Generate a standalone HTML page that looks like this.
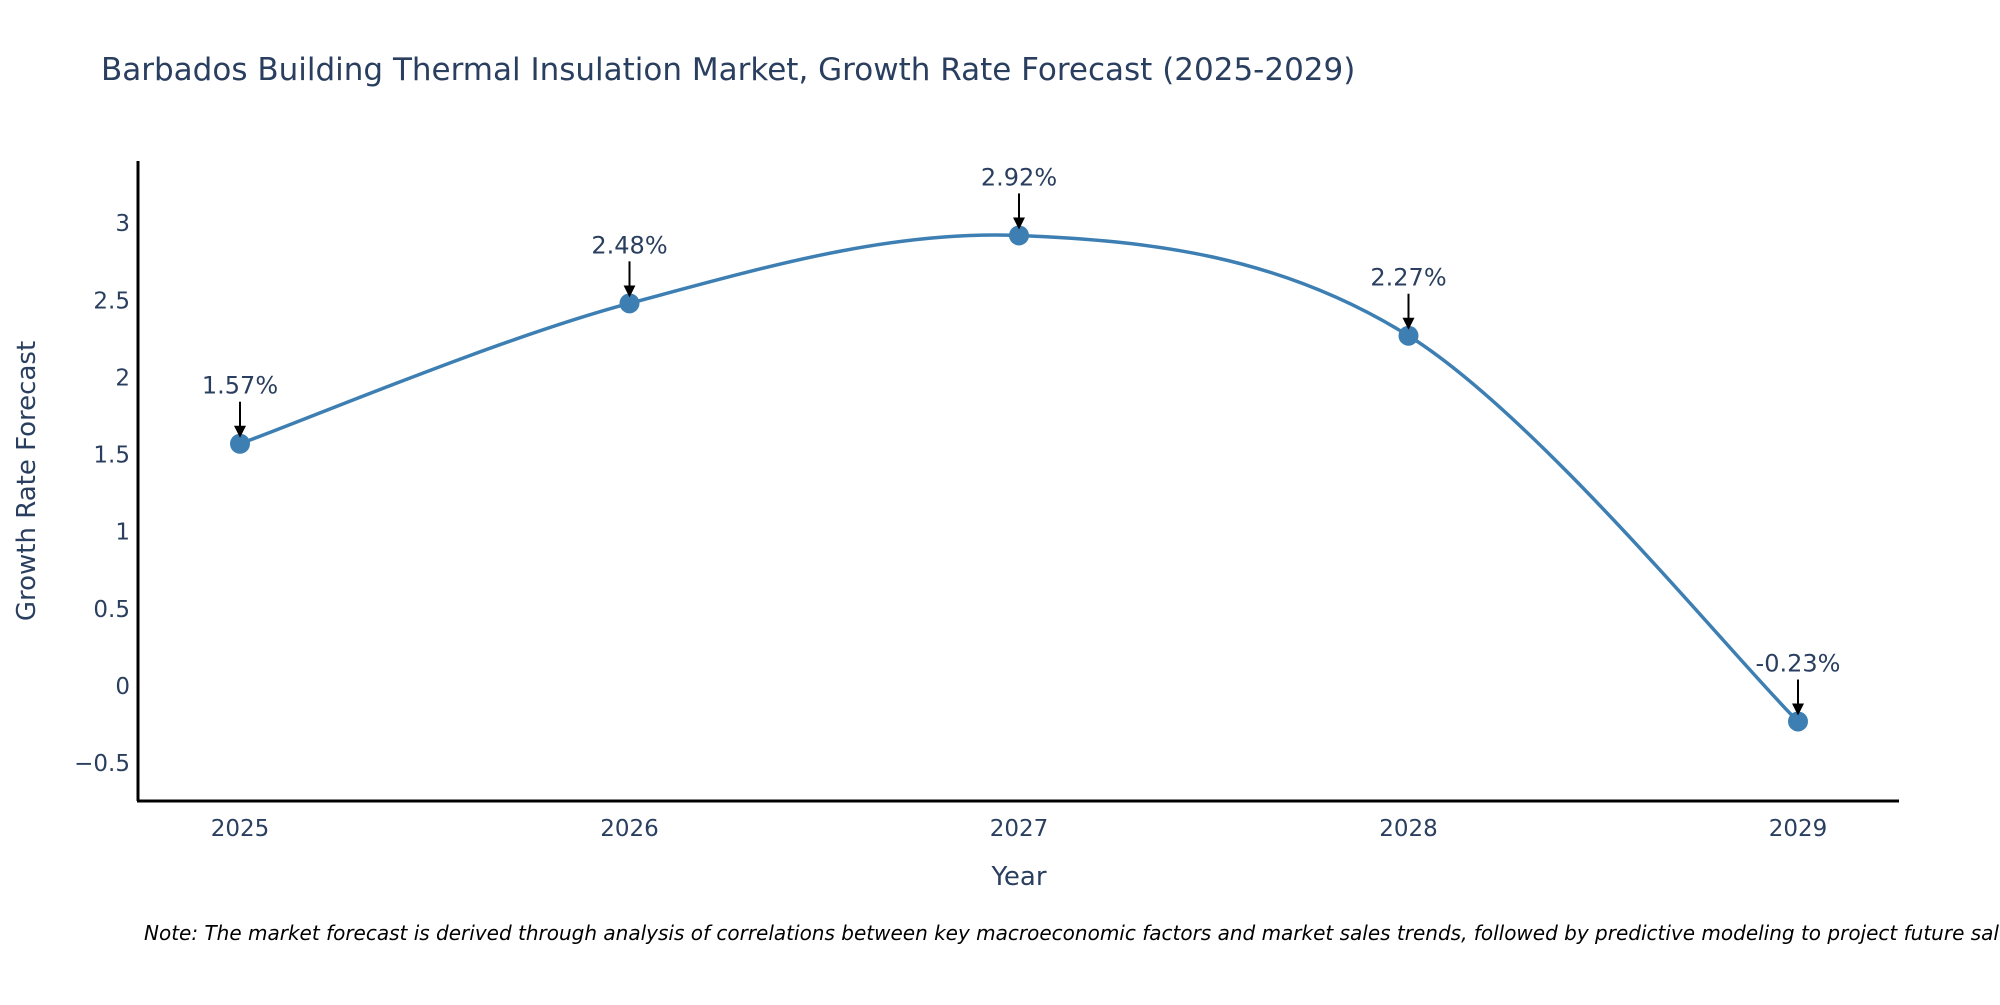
<!DOCTYPE html>
<html><head><meta charset="utf-8"><style>
body{margin:0;background:#fff;overflow:hidden;}
svg text{font-family:"DejaVu Sans","Liberation Sans",sans-serif;}
</style></head><body>
<svg id="chart" width="2000" height="1000" viewBox="0 0 2000 1000" xmlns="http://www.w3.org/2000/svg">
<rect width="2000" height="1000" fill="#fff"/>
<text x="101" y="80" font-size="31" fill="#2a3f5f">Barbados Building Thermal Insulation Market, Growth Rate Forecast (2025-2029)</text>
<g id="yticks"></g>
<g id="xticks"></g>
<path id="line" fill="none" stroke="#3d7fb3" stroke-width="3.5"/>
<g id="points"></g>
<g id="annos"></g>
<line x1="138" y1="161" x2="138" y2="801" stroke="#000" stroke-width="3"/>
<line x1="137" y1="801" x2="1899" y2="801" stroke="#000" stroke-width="3"/>
<text x="1019" y="885" font-size="26" fill="#2a3f5f" text-anchor="middle">Year</text>
<text transform="translate(35,481) rotate(-90)" font-size="26" fill="#2a3f5f" text-anchor="middle">Growth Rate Forecast</text>
<text x="144" y="940" font-size="20" font-style="italic" fill="#000">Note: The market forecast is derived through analysis of correlations between key macroeconomic factors and market sales trends, followed by predictive modeling to project future sales.</text>
</svg>
<script>
const years = ["2025","2026","2027","2028","2029"];
const growth = [1.57, 2.48, 2.92, 2.27, -0.23];
const labels = ["1.57%","2.48%","2.92%","2.27%","-0.23%"];
const yTicks = [-0.5, 0, 0.5, 1, 1.5, 2, 2.5, 3];
const yTickLabels = ["\u22120.5","0","0.5","1","1.5","2","2.5","3"];

const NS="http://www.w3.org/2000/svg";
const xScale = i => 240 + i*389.5;
const yScale = v => 686 - v*154.3;
function mk(tag, attrs, parent){const e=document.createElementNS(NS,tag);for(const k in attrs)e.setAttribute(k,attrs[k]);parent.appendChild(e);return e;}

const yt=document.getElementById('yticks');
yTicks.forEach((v,i)=>{
  const t=mk('text',{x:130,y:yScale(v)+8,'font-size':23,fill:'#2a3f5f','text-anchor':'end'},yt);
  
  
  t.textContent=yTickLabels[i];
});
const xt=document.getElementById('xticks');
years.forEach((y,i)=>{
  const t=mk('text',{x:xScale(i),y:836,'font-size':23,fill:'#2a3f5f','text-anchor':'middle'},xt);
  
  
  t.textContent=y;
});

const pts=growth.map((v,i)=>[xScale(i),yScale(v)]);
let d=`M${pts[0][0]},${pts[0][1]}`;
const s=1/6;
for(let i=0;i<pts.length-1;i++){
  const p0=pts[Math.max(0,i-1)],p1=pts[i],p2=pts[i+1],p3=pts[Math.min(pts.length-1,i+2)];
  const c1=[p1[0]+(p2[0]-p0[0])*s,p1[1]+(p2[1]-p0[1])*s];
  const c2=[p2[0]-(p3[0]-p1[0])*s,p2[1]-(p3[1]-p1[1])*s];
  d+=` C${c1[0]},${c1[1]} ${c2[0]},${c2[1]} ${p2[0]},${p2[1]}`;
}
document.getElementById('line').setAttribute('d',d);

const pg=document.getElementById('points'), ag=document.getElementById('annos');
mk('defs',{},ag).innerHTML='<marker id="ah" markerWidth="6" markerHeight="6" refX="3" refY="3" orient="auto" markerUnits="strokeWidth"><path d="M0,0 L6,3 L0,6 z" fill="#000"/></marker>';
pts.forEach((p,i)=>{
  const c=mk('circle',{cx:p[0],cy:p[1],r:10,fill:'#3d7fb3'},pg);
  
  
  const l=mk('line',{x1:p[0],y1:p[1]-42,x2:p[0],y2:p[1]-12,stroke:'#000','stroke-width':2,'marker-end':'url(#ah)'},ag);
  
  
  const t=mk('text',{x:p[0],y:p[1]-50,'font-size':24,fill:'#2a3f5f','text-anchor':'middle'},ag);
  
  
  t.textContent=labels[i];
});
</script>
</body></html>
